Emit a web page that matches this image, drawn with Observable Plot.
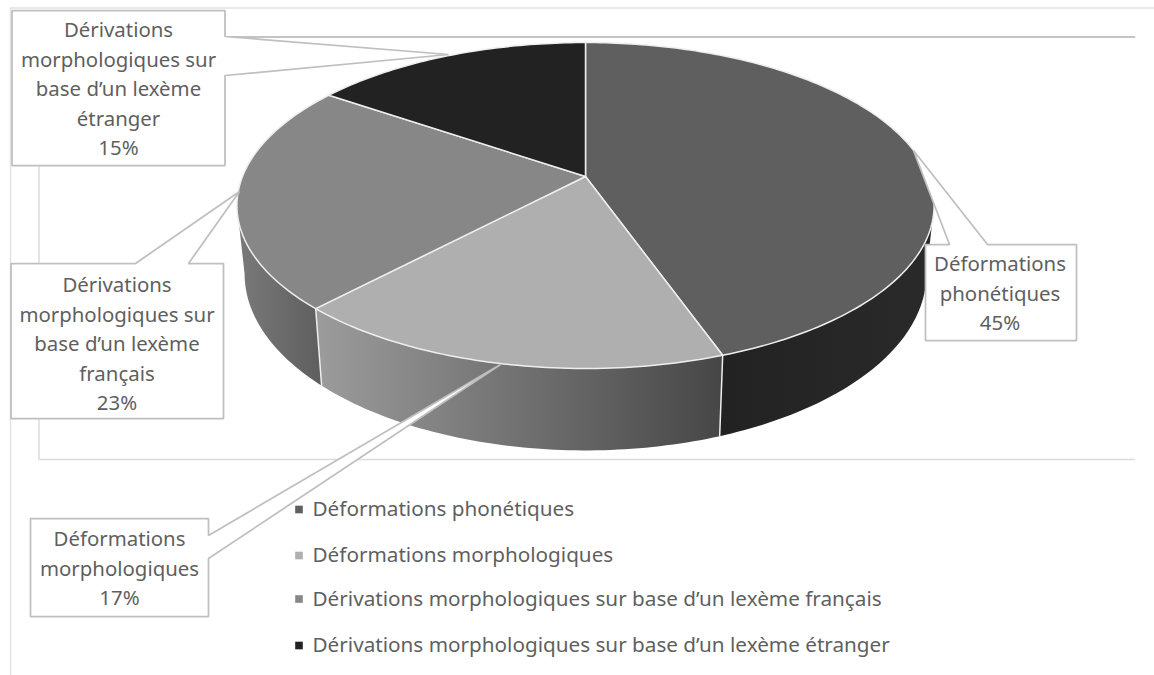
<!DOCTYPE html>
<html lang="fr">
<head>
<meta charset="utf-8">
<script src="https://cdn.jsdelivr.net/npm/d3@7"></script>
<script src="https://cdn.jsdelivr.net/npm/@observablehq/plot@0.6"></script>
<style>html,body{margin:0;padding:0;background:#fff}svg{display:block}</style>
</head>
<body>
<div id="chart"></div>
<script>
// Data
const categories = [
  "Déformations phonétiques",
  "Déformations morphologiques",
  "Dérivations morphologiques sur base d’un lexème français",
  "Dérivations morphologiques sur base d’un lexème étranger"
];
const shares = [44.6, 17.4, 22.6, 15.4];
const calloutNames = [
  "Déformations\nphonétiques",
  "Déformations\nmorphologiques",
  "Dérivations\nmorphologiques sur\nbase d’un lexème\nfrançais",
  "Dérivations\nmorphologiques sur\nbase d’un lexème\nétranger"
];
const topColors = ["#5f5f5f", "#afafaf", "#878787", "#222222"];

// Layout
const W = 1154, H = 675;
const textColor = "#5f5f5f";
const font = "'Noto Sans', sans-serif";
const fontSize = 20.4;
const legendSize = 20.7;
const lineGap = 29.5;

// Perspective disc
const cx = 585, cy = 176, a = 343, b = 157.8, k = 0.178;
const sx = 0.978, sy = 1.083, by = 242;
const rimTop = (deg) => {
  const t = deg * Math.PI / 180, w = 1 + k * Math.cos(t);
  return {x: cx + a * Math.sin(t) / w, y: cy - b * Math.cos(t) / w};
};
const rimBottom = (deg) => {
  const p = rimTop(deg);
  return {x: cx + (p.x - cx) * sx, y: by + (p.y - cy) * sy};
};
const arcRange = (d0, d1) => {
  const n = Math.max(2, Math.ceil(Math.abs(d1 - d0)));
  return d3.range(n + 1).map(i => d0 + (d1 - d0) * i / n);
};
const total = d3.sum(shares);
const ends = Array.from(d3.cumsum(shares), v => v / total * 360);
const starts = [0, ...ends.slice(0, -1)];
const sliceTop = (i) => [{x: cx, y: cy}, ...arcRange(starts[i], ends[i]).map(rimTop)];
const wallLeft = Math.acos(-k) * 180 / Math.PI, wallRight = 360 - wallLeft;
const wall = (d0, d1) => [...arcRange(d0, d1).map(rimTop), ...arcRange(d1, d0).map(rimBottom)];
const wallFills = ["url(#wall0)", "url(#wall1)", "url(#wall2)"];
const walls = [
  wall(wallLeft, ends[0]),
  wall(ends[0], ends[1]),
  wall(ends[1], wallRight)
];
const dividers = [ends[0], ends[1]].map(d => [rimTop(d), rimBottom(d)]);

// Frames (light chart frame and inner plot frame)
const frameOuter = [{x: 1154, y: 7.5}, {x: 10, y: 7.5}, {x: 10, y: 675}];
const frameInnerTop = [{x: 224, y: 36.5}, {x: 1134, y: 36.5}];
const frameInnerSide = [{x: 38.5, y: 165}, {x: 38.5, y: 459}, {x: 1134, y: 459}];

// Callouts
const pts = (arr) => arr.map(([x, y]) => ({x, y}));
const callouts = [
  pts([[925,244],[949,244],[913,150],[987,244],[1076,244],[1076,340],[925,340]]),
  pts([[30,518],[208,518],[208,535],[500,364],[208,558],[208,616],[30,616]]),
  pts([[10.5,263],[135,263],[239,191],[188,263],[223,263],[223,418],[10.5,418]]),
  pts([[11.5,10],[224.5,10],[224.5,36],[448,54],[224.5,75],[224.5,165],[11.5,165]])
];
const calloutText = calloutNames.map((name, i) => `${name}\n${Math.round(shares[i])}%`);
const calloutPos = [{x: 999.5, y: 250}, {x: 119, y: 525}, {x: 116.5, y: 271}, {x: 118, y: 16}];
const legendY = [509, 555, 598.5, 645];

const defs = () => {
  const d = d3.create("svg:defs");
  const grad = (id, c0, c1) => {
    const g = d.append("linearGradient").attr("id", id);
    g.append("stop").attr("offset", 0).attr("stop-color", c0);
    g.append("stop").attr("offset", 1).attr("stop-color", c1);
  };
  grad("wall0", "#222222", "#2a2a2a");
  grad("wall1", "#9c9c9c", "#464646");
  grad("wall2", "#7a7a7a", "#5e5e5e");
  return d.node();
};

const poly = (data, opts) => Plot.line(data, {x: "x", y: "y", curve: "linear-closed", ...opts});

const chart = Plot.plot({
  width: W, height: H,
  margin: 0,
  x: {domain: [0, W], range: [0, W], axis: null},
  y: {domain: [0, H], range: [0, H], axis: null},
  style: {background: "#fff"},
  marks: [
    defs,
    Plot.line(frameOuter, {x: "x", y: "y", stroke: "#e2e2e2", strokeWidth: 1.5}),
    Plot.line(frameInnerTop, {x: "x", y: "y", stroke: "#c4c4c4", strokeWidth: 2}),
    Plot.line(frameInnerSide, {x: "x", y: "y", stroke: "#dcdcdc", strokeWidth: 1.5}),
    ...walls.map((w, i) => poly(w, {fill: wallFills[i], stroke: "none"})),
    ...dividers.map(d => Plot.line(d, {x: "x", y: "y", stroke: "#eeeeee", strokeWidth: 1.5})),
    ...shares.map((_, i) => poly(sliceTop(i), {fill: topColors[i], stroke: "#eeeeee", strokeWidth: 1.5})),
    ...callouts.map(c => poly(c, {fill: "#fff", stroke: "#bfbfbf", strokeWidth: 1.75, strokeLinejoin: "miter"})),
    ...calloutText.map((t, i) => Plot.text([t], {
      x: () => calloutPos[i].x, y: () => calloutPos[i].y, text: d => d,
      lineAnchor: "top", textAnchor: "middle", lineHeight: lineGap / fontSize,
      fontSize, fontFamily: font, fill: textColor
    })),
    Plot.dot(categories, {
      x: () => 298.5, y: (d, i) => legendY[i], symbol: "square", r: 4.3,
      fill: (d, i) => topColors[i], stroke: "none"
    }),
    Plot.text(categories, {
      x: () => 312, y: (d, i) => legendY[i], text: d => d, textAnchor: "start",
      fontSize: legendSize, fontFamily: font, fill: textColor
    })
  ],
  color: {type: "identity"}
});
document.getElementById("chart").append(chart);
</script>
</body>
</html>
